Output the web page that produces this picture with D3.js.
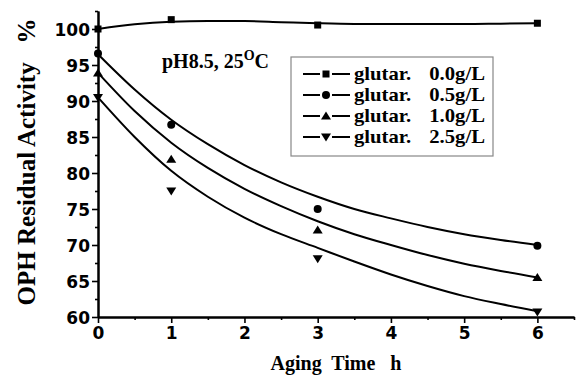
<!DOCTYPE html>
<html><head><meta charset="utf-8">
<script src="https://cdn.jsdelivr.net/npm/d3@7"></script>
<style>body{margin:0;background:#fff}svg{display:block}</style>
</head><body>
<svg id="c" width="580" height="377"></svg>
<script>
// ---- data ----
const seriesNames = ["glutar.", "glutar.", "glutar.", "glutar."];
const legendLabels = ["0.0g/L", "0.5g/L", "1.0g/L", "2.5g/L"];
const markers = ["square", "circle", "triUp", "triDown"];
const times = [0, 1, 3, 6];
const pts00 = [100.0, 101.3, 100.55, 100.8];
const pts05 = [96.6, 86.7, 75.0, 69.9];
const pts10 = [93.9, 81.9, 72.1, 65.5];
const pts25 = [90.5, 77.5, 68.1, 60.7];
// fitted curves
const fitTimes = [0, 0.5, 1, 1.5, 2, 2.5, 3, 3.5, 4, 4.5, 5, 5.5, 6];
const fit00 = [100.0, 100.65, 101.0, 101.1, 101.1, 100.95, 100.8, 100.7, 100.68, 100.68, 100.68, 100.74, 100.8];
const fit05 = [96.5, 91.6, 87.4, 84.0, 81.1, 78.7, 76.7, 75.0, 73.7, 72.5, 71.5, 70.7, 70.0];
const fit10 = [93.9, 88.6, 84.2, 80.7, 77.8, 75.4, 73.3, 71.5, 70.0, 68.6, 67.4, 66.4, 65.5];
const fit25 = [90.5, 85.0, 80.3, 76.7, 73.8, 71.5, 69.6, 67.7, 65.9, 64.3, 62.9, 61.8, 60.8];
const xTicks = [0, 1, 2, 3, 4, 5, 6];
const xMinor = [0.5, 1.5, 2.5, 3.5, 4.5, 5.5, 6.5];
const yTicks = [60, 65, 70, 75, 80, 85, 90, 95, 100];
const yMinor = [62.5, 67.5, 72.5, 77.5, 82.5, 87.5, 92.5, 97.5, 102.5];

const allPts = [pts00, pts05, pts10, pts25];
const allFits = [fit00, fit05, fit10, fit25];

const svg = d3.select("#c");
const x = d3.scaleLinear().domain([0, 6.5]).range([98, 574]);
const y = d3.scaleLinear().domain([60, 102.5]).range([317, 11]);

const tickFont = "'DejaVu Sans', sans-serif";
const serif = "'Liberation Serif', 'Times New Roman', serif";

// axes
const gx = svg.append("g").attr("transform", `translate(0,${y(60)})`)
  .call(d3.axisBottom(x).tickValues(xTicks).tickSize(6).tickSizeOuter(0).tickPadding(4).tickFormat(d3.format("d")));
const gxm = svg.append("g").attr("transform", `translate(0,${y(60)})`)
  .call(d3.axisBottom(x).tickValues(xMinor).tickSize(3).tickSizeOuter(0).tickFormat(""));
const gy = svg.append("g").attr("transform", `translate(${x(0)},0)`)
  .call(d3.axisLeft(y).tickValues(yTicks).tickSize(6).tickSizeOuter(0).tickPadding(2).tickFormat(d3.format("d")));
const gym = svg.append("g").attr("transform", `translate(${x(0)},0)`)
  .call(d3.axisLeft(y).tickValues(yMinor).tickSize(3).tickSizeOuter(0).tickFormat(""));
[gx, gxm, gy, gym].forEach(g => {
  g.selectAll("path.domain").attr("stroke", "#000").attr("stroke-width", 2);
  g.selectAll(".tick line").attr("stroke", "#000").attr("stroke-width", 1.6);
  g.selectAll(".tick text").attr("font-family", tickFont).attr("font-weight", "bold")
    .attr("font-size", 17).attr("fill", "#000");
});
gy.selectAll(".tick text").attr("dy", "0.36em");

// curves
const line = d3.line().curve(d3.curveMonotoneX);
allFits.forEach(f => {
  svg.append("path")
    .attr("d", line(fitTimes.map((t, i) => [x(t), y(f[i])])))
    .attr("fill", "none").attr("stroke", "#000").attr("stroke-width", 2);
});

// markers
function drawMarker(g, type, cx, cy) {
  if (type === "square") {
    g.append("rect").attr("x", cx - 3.5).attr("y", cy - 3.5).attr("width", 7).attr("height", 7).attr("fill", "#000");
  } else if (type === "circle") {
    g.append("circle").attr("cx", cx).attr("cy", cy).attr("r", 4).attr("fill", "#000");
  } else if (type === "triUp") {
    g.append("path").attr("d", `M${cx},${cy - 4.5}L${cx + 5},${cy + 3.5}L${cx - 5},${cy + 3.5}Z`).attr("fill", "#000");
  } else {
    g.append("path").attr("d", `M${cx},${cy + 4.5}L${cx + 5},${cy - 3.5}L${cx - 5},${cy - 3.5}Z`).attr("fill", "#000");
  }
}
allPts.forEach((p, s) => {
  const g = svg.append("g");
  times.forEach((t, i) => drawMarker(g, markers[s], x(t), y(p[i])));
});

// annotation
const ann = svg.append("text").attr("x", 162).attr("y", 68)
  .attr("font-family", serif).attr("font-weight", "bold").attr("font-size", 20).attr("fill", "#000");
ann.append("tspan").text("pH8.5, 25");
ann.append("tspan").attr("dy", -8).attr("font-size", 14).text("O");
ann.append("tspan").attr("dy", 8).text("C");

// legend
const lg = svg.append("g");
lg.append("rect").attr("x", 291).attr("y", 57).attr("width", 202).attr("height", 99)
  .attr("fill", "#fff").attr("stroke", "#888").attr("stroke-width", 1.2);
seriesNames.forEach((n, i) => {
  const yy = 74 + i * 21;
  lg.append("line").attr("x1", 303).attr("x2", 320).attr("y1", yy).attr("y2", yy).attr("stroke", "#000").attr("stroke-width", 2);
  lg.append("line").attr("x1", 332).attr("x2", 350).attr("y1", yy).attr("y2", yy).attr("stroke", "#000").attr("stroke-width", 2);
  drawMarker(lg, markers[i], 326, yy);
  lg.append("text").attr("transform", `translate(354,${yy + 6}) scale(1.15,1)`)
    .attr("font-family", serif).attr("font-weight", "bold")
    .attr("font-size", 18).attr("fill", "#000").text(n);
  lg.append("text").attr("transform", `translate(485,${yy + 6}) scale(1.15,1)`).attr("text-anchor", "end")
    .attr("font-family", serif).attr("font-weight", "bold")
    .attr("font-size", 18).attr("fill", "#000").text(legendLabels[i]);
});

// axis titles
svg.append("text").attr("x", 336).attr("y", 370).attr("text-anchor", "middle")
  .attr("font-family", serif).attr("font-weight", "bold").attr("font-size", 20).attr("fill", "#000")
  .style("white-space", "pre").text("Aging  Time   h");
svg.append("text").attr("transform", "translate(35,162) rotate(-90)").attr("text-anchor", "middle")
  .attr("font-family", serif).attr("font-weight", "bold").attr("font-size", 25).attr("fill", "#000")
  .style("white-space", "pre").text("OPH Residual Activity   %");
</script>
</body></html>
